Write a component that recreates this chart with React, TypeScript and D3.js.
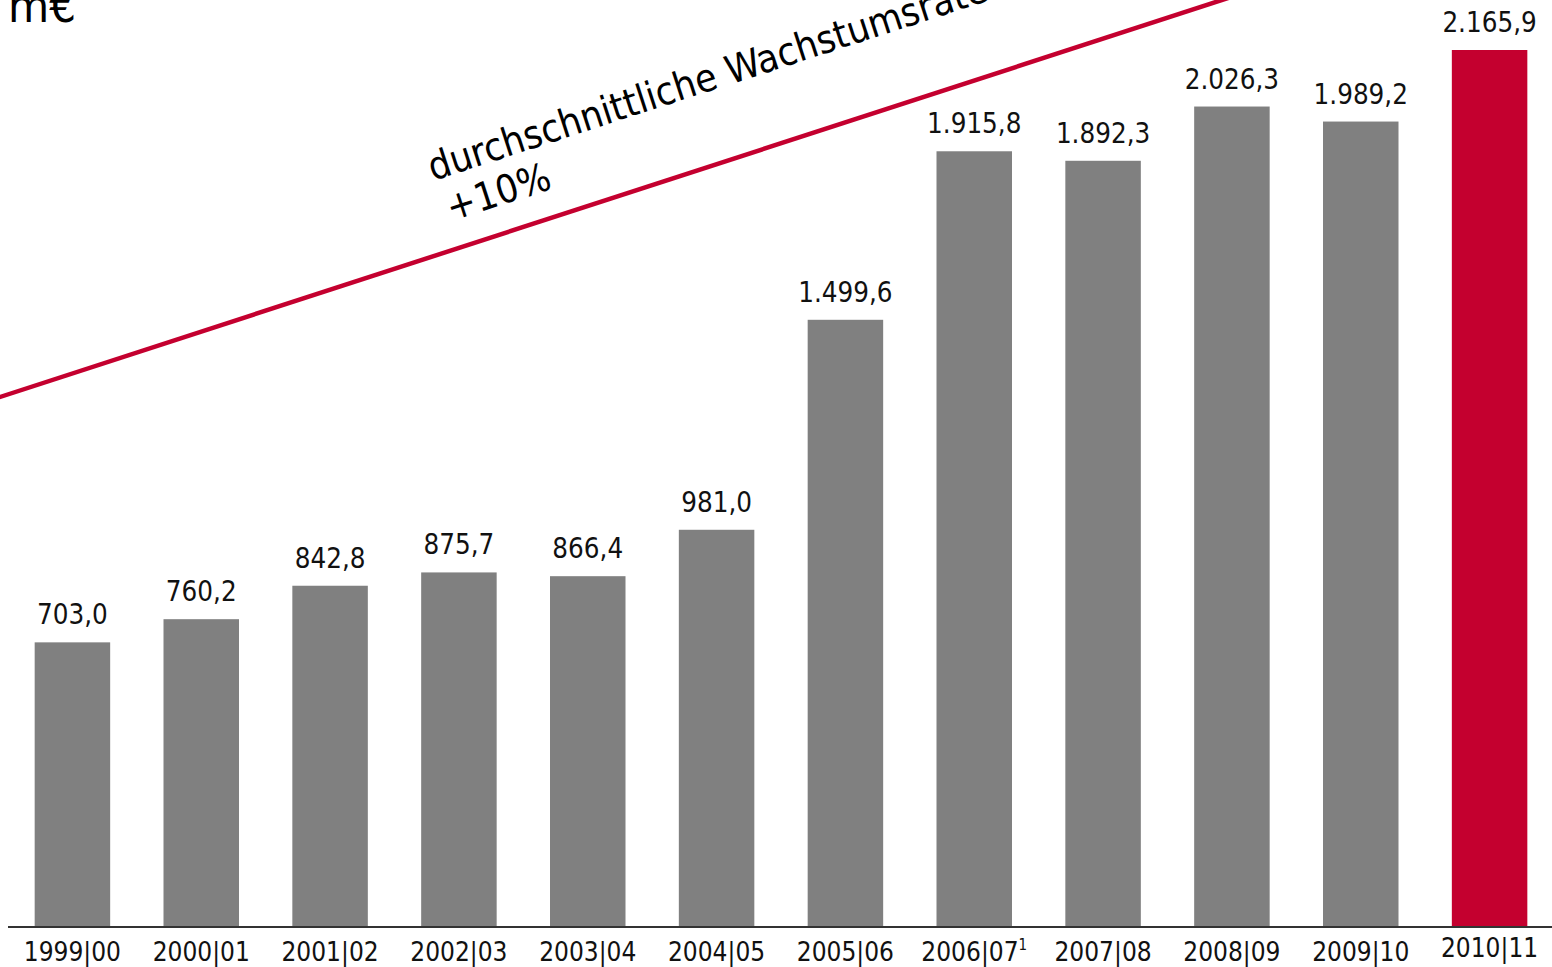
import React from "react";
import * as d3 from "d3";

const categories = ["1999|00", "2000|01", "2001|02", "2002|03", "2003|04", "2004|05", "2005|06", "2006|07", "2007|08", "2008|09", "2009|10", "2010|11"];
const footnotes = ["", "", "", "", "", "", "", "1", "", "", "", ""];
const values = [703.0, 760.2, 842.8, 875.7, 866.4, 981.0, 1499.6, 1915.8, 1892.3, 2026.3, 1989.2, 2165.9];
const highlight = [false, false, false, false, false, false, false, false, false, false, false, true];
const unitLabel = "m€";
const trendLabel = ["durchschnittliche Wachstumsrate:", "+10%"];

const W = 1552;
const H = 967;
const GREY = "#808080";
const RED = "#C4002F";
const FONT = "'DejaVu Sans Condensed', 'DejaVu Sans', sans-serif";

const de = d3.formatLocale({ decimal: ",", thousands: ".", grouping: [3], currency: ["", "€"] });
const fmt = de.format(",.1f");

export default function App() {
  const x = d3.scaleBand<string>().domain(categories).range([8, 1554]).paddingInner(0.414).paddingOuter(0.207);
  const y = d3.scaleLinear().domain([0, 2165.9]).range([927, 50]);
  const baseY = y(0);

  const lineStart: [number, number] = [-20, 397 + 20 * (397 / 1222)];
  const lineEnd: [number, number] = [1240, -18 * (397 / 1222)];
  const angle = (-Math.atan2(397, 1222) * 180) / Math.PI;
  const lineGen = d3.line();

  return (
    <svg width={W} height={H} style={{ position: "absolute", left: 0, top: 0, background: "#fff" }} fontFamily={FONT}>
      <text x={8} y={22} fontSize={47} fill="#000">{unitLabel}</text>

      {categories.map((c, i) => (
        <rect key={c} x={x(c)} y={y(values[i])} width={x.bandwidth()} height={baseY - y(values[i])} fill={highlight[i] ? RED : GREY} />
      ))}

      {categories.map((c, i) => (
        <text key={"v" + c} x={(x(c) as number) + x.bandwidth() / 2} y={y(values[i]) - 18} textAnchor="middle" fontSize={27.5} fill="#111">
          {fmt(values[i])}
        </text>
      ))}

      <line x1={8} x2={1552} y1={baseY} y2={baseY} stroke="#333" strokeWidth={2} />

      {categories.map((c, i) => (
        <text key={"t" + c} x={(x(c) as number) + x.bandwidth() / 2} y={highlight[i] ? 957 : 961} textAnchor="middle" fontSize={26} fill="#111">
          {c}
          {footnotes[i] ? <tspan fontSize={15} dy={-11}>{footnotes[i]}</tspan> : null}
        </text>
      ))}

      <path d={lineGen([lineStart, lineEnd]) as string} stroke={RED} strokeWidth={4.5} fill="none" />

      <g transform={`translate(433,181) rotate(${angle})`}>
        <text x={0} y={0} fontSize={39} fill="#000">{trendLabel[0]}</text>
        <text x={5} y={44} fontSize={39} fill="#000">{trendLabel[1]}</text>
      </g>
    </svg>
  );
}
